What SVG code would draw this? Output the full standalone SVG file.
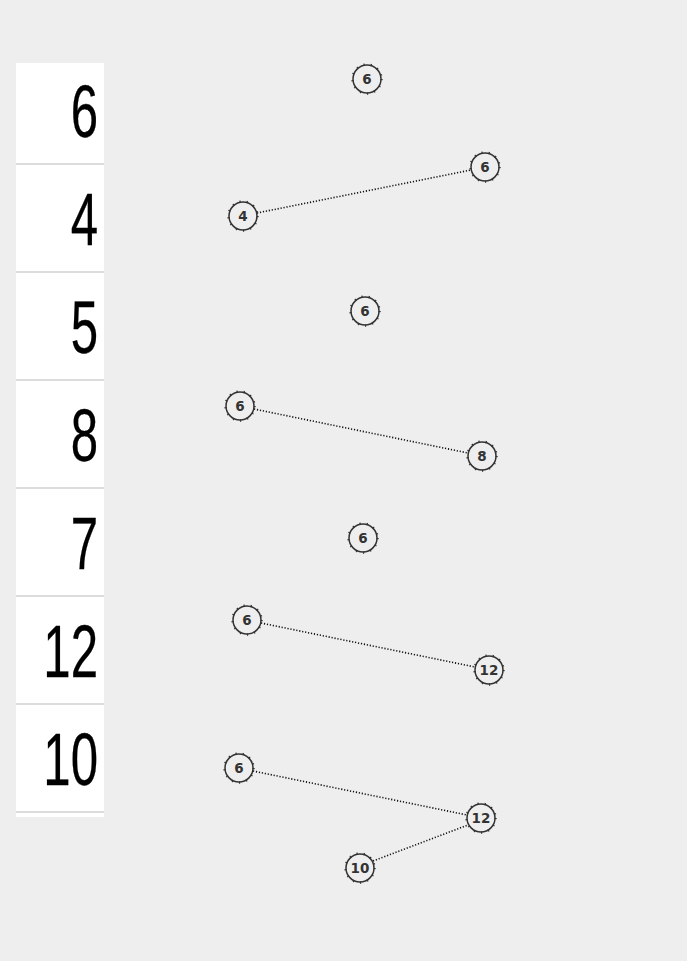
<svg xmlns="http://www.w3.org/2000/svg" width="687" height="961" viewBox="0 0 687 961">
<style>
.row{fill:#fff}
.sep{fill:#dcdcdc}
.num{font-family:"Liberation Sans",Arial,sans-serif;font-size:74px;fill:#000;stroke:#000;stroke-width:0.3;text-anchor:end}
.nc{fill:#eeeeee;stroke:#333;stroke-width:1.5}
.nt{fill:none;stroke:#333;stroke-width:2.2;stroke-dasharray:1.2 6}
.nl{font-family:"DejaVu Sans",sans-serif;font-weight:bold;font-size:13.5px;fill:#333;text-anchor:middle;dominant-baseline:central}
.edge{stroke:#111;stroke-width:1.6;stroke-dasharray:1.2 1.8;fill:none}
</style>
<defs>
<g id="nd"><circle class="nc" r="14"/><circle class="nt" r="14.6"/></g>
</defs>
<rect width="687" height="961" fill="#eeeeee"/>
<g id="panel">
<rect class="row" x="16" y="63" width="88" height="754"/>
<rect class="sep" x="16" y="163" width="88" height="2"/>
<rect class="sep" x="16" y="271" width="88" height="2"/>
<rect class="sep" x="16" y="379" width="88" height="2"/>
<rect class="sep" x="16" y="487" width="88" height="2"/>
<rect class="sep" x="16" y="595" width="88" height="2"/>
<rect class="sep" x="16" y="703" width="88" height="2"/>
<rect class="sep" x="16" y="811" width="88" height="2"/>
<text class="num" transform="translate(98,137) scale(0.665,1)">6</text>
<text class="num" transform="translate(98,245) scale(0.665,1)">4</text>
<text class="num" transform="translate(98,353) scale(0.665,1)">5</text>
<text class="num" transform="translate(98,461) scale(0.665,1)">8</text>
<text class="num" transform="translate(98,569) scale(0.665,1)">7</text>
<text class="num" transform="translate(98,677) scale(0.665,1)">12</text>
<text class="num" transform="translate(98,785) scale(0.665,1)">10</text>
</g>
<g id="connectors">
<line class="edge" x1="257" y1="213" x2="471" y2="170"/>
<line class="edge" x1="254" y1="409" x2="468" y2="453"/>
<line class="edge" x1="261" y1="623" x2="475" y2="667"/>
<line class="edge" x1="253" y1="771" x2="467" y2="815"/>
<line class="edge" x1="373" y1="861" x2="468" y2="825"/>
</g>
<g id="n1" transform="translate(367,79)"><use href="#nd"/><text class="nl">6</text></g>
<g id="n2" transform="translate(485,167)"><use href="#nd"/><text class="nl">6</text></g>
<g id="n3" transform="translate(243,216)"><use href="#nd"/><text class="nl">4</text></g>
<g id="n4" transform="translate(365,311)"><use href="#nd"/><text class="nl">6</text></g>
<g id="n5" transform="translate(240,406)"><use href="#nd"/><text class="nl">6</text></g>
<g id="n6" transform="translate(482,456)"><use href="#nd"/><text class="nl">8</text></g>
<g id="n7" transform="translate(363,538)"><use href="#nd"/><text class="nl">6</text></g>
<g id="n8" transform="translate(247,620)"><use href="#nd"/><text class="nl">6</text></g>
<g id="n9" transform="translate(489,670)"><use href="#nd"/><text class="nl">12</text></g>
<g id="n10" transform="translate(239,768)"><use href="#nd"/><text class="nl">6</text></g>
<g id="n11" transform="translate(481,818)"><use href="#nd"/><text class="nl">12</text></g>
<g id="n12" transform="translate(360,868)"><use href="#nd"/><text class="nl">10</text></g>
</svg>
